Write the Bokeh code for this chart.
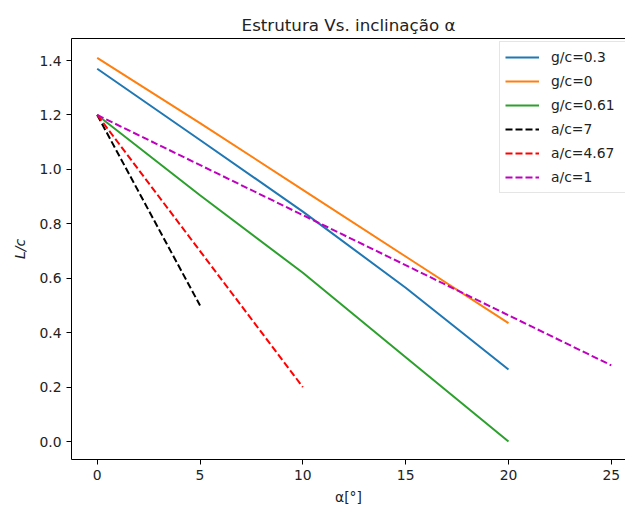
from bokeh.plotting import figure
from bokeh.models import Range1d, Legend, LegendItem, FixedTicker, NumeralTickFormatter, LinearAxis
from bokeh.embed import file_html
from bokeh.resources import INLINE

x_g = [0, 5, 10, 15, 20]
g03 = [1.37, 1.108, 0.845, 0.565, 0.265]
g00 = [1.41, 1.17, 0.925, 0.68, 0.435]
g061 = [1.2, 0.905, 0.62, 0.31, 0.0]
x_a7 = [0, 5]
a7 = [1.2, 0.5]
x_a467 = [0, 10]
a467 = [1.2, 0.2]
x_a1 = [0, 25]
a1 = [1.2, 0.28]
x_ticks = [0, 5, 10, 15, 20, 25]
y_ticks = [0.0, 0.2, 0.4, 0.6, 0.8, 1.0, 1.2, 1.4]

FONT = "DejaVu Sans"

p = figure(width=625, height=511, output_backend="svg", toolbar_location=None,
           x_range=Range1d(-1.25, 25.69), y_range=Range1d(-0.066, 1.481),
           min_border_left=71, min_border_right=0, min_border_top=38, min_border_bottom=52)
p.title.text = "Estrutura Vs. inclinação α"
p.title.align = "center"
p.title.text_font = FONT
p.title.text_font_size = "16.7px"
p.title.text_font_style = "normal"
p.title.text_color = "#222222"
p.title.offset = 5
p.title.standoff = 8

p.xgrid.visible = False
p.ygrid.visible = False
p.outline_line_color = None

xb = p.below[0]
yl = p.left[0]

for ax in (xb, yl):
    ax.axis_line_color = "black"
    ax.axis_line_width = 1
    ax.major_tick_in = 0
    ax.major_tick_out = 5
    ax.minor_tick_line_color = None
    ax.major_label_text_font = FONT
    ax.major_label_text_font_size = "13.9px"
    ax.major_label_text_color = "#222222"
    ax.axis_label_text_font = FONT
    ax.axis_label_text_font_size = "13.9px"
    ax.axis_label_text_color = "#222222"

xb.ticker = FixedTicker(ticks=x_ticks)
yl.ticker = FixedTicker(ticks=y_ticks)
yl.formatter = NumeralTickFormatter(format="0.0")
xb.axis_label = "α[°]"
xb.axis_label_text_font_style = "normal"
xb.axis_label_standoff = 6
yl.axis_label = "L/c"
yl.axis_label_text_font_style = "italic"
yl.axis_label_standoff = 8

top = LinearAxis(ticker=FixedTicker(ticks=[]), major_tick_line_color=None,
                 minor_tick_line_color=None, major_label_text_font_size="0px",
                 major_label_standoff=0, axis_line_color="black", axis_line_width=1)
p.add_layout(top, "above")

r1 = p.line(x_g, g03, line_color="#1f77b4", line_width=2)
r2 = p.line(x_g, g00, line_color="#ff7f0e", line_width=2)
r3 = p.line(x_g, g061, line_color="#2ca02c", line_width=2)
r4 = p.line(x_a7, a7, line_color="black", line_width=2, line_dash="7 3")
r5 = p.line(x_a467, a467, line_color="#ff0000", line_width=2, line_dash="7 3")
r6 = p.line(x_a1, a1, line_color="#bf00bf", line_width=2, line_dash="7 3")

legend = Legend(items=[
    LegendItem(label="g/c=0.3", renderers=[r1]),
    LegendItem(label="g/c=0", renderers=[r2]),
    LegendItem(label="g/c=0.61", renderers=[r3]),
    LegendItem(label="a/c=7", renderers=[r4]),
    LegendItem(label="a/c=4.67", renderers=[r5]),
    LegendItem(label="a/c=1", renderers=[r6]),
], location=(428, 266))
legend.label_text_font = FONT
legend.label_text_font_size = "13.9px"
legend.label_text_color = "#222222"
legend.glyph_width = 34
legend.glyph_height = 20
legend.label_height = 20
legend.label_width = 90
legend.label_standoff = 12
legend.spacing = 4
legend.padding = 5
legend.margin = 0
legend.border_line_color = "#cccccc"
legend.border_line_width = 1
legend.background_fill_alpha = 0.8
p.add_layout(legend, "center")

open("out.html", "w").write(file_html(p, INLINE))
